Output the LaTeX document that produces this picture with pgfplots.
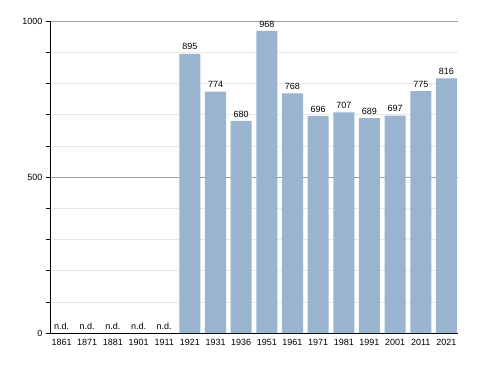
\documentclass[border=0pt]{standalone}
\usepackage{pgfplots}
\pgfplotsset{compat=1.18}
\usepackage{fontspec}
\setmainfont{Liberation Sans}
\definecolor{barc}{HTML}{9AB4D0}
\begin{document}
\begin{tikzpicture}
\begin{axis}[name=ax, at={(50pt,40pt)}, anchor=south west,
  scale only axis, width=408pt, height=312pt,
  xmin=-0.45, xmax=15.45, ymin=0, ymax=1000,
  axis x line*=bottom, axis y line*=left,
  axis line style={-, black, line width=0.8pt},
  xtick={0,...,15},
  xticklabels={1861,1871,1881,1901,1911,1921,1931,1936,1951,1961,1971,1981,1991,2001,2011,2021},
  x tick style={draw=none},
  ytick={0,500,1000},
  minor ytick={100,200,300,400,600,700,800,900},
  y tick style={black, line width=0.6pt},
  tick align=outside, major tick length=4pt, minor tick length=4pt,
  ymajorgrids, yminorgrids,
  major grid style={gray!75, line width=0.6pt},
  minor grid style={gray!18, line width=0.6pt},
  tick label style={font=\fontsize{9}{10}\selectfont},
  xticklabel style={yshift=1pt},
  /pgf/number format/1000 sep={},
  /pgf/number format/assume math mode=true,
  clip=false,
]
\addplot[ybar, bar width=0.82, fill=barc, draw=none,
  nodes near coords, every node near coord/.append style={font=\fontsize{9}{10}\selectfont, black, inner sep=3.5pt}]
  coordinates {(5,895) (6,774) (7,680) (8,968) (9,768) (10,696) (11,707) (12,689) (13,697) (14,775) (15,816)};
\addplot[draw=none, mark=none, nodes near coords={n.d.},
  every node near coord/.append style={font=\fontsize{9}{10}\selectfont, black, inner sep=3.5pt}]
  coordinates {(0,0) (1,0) (2,0) (3,0) (4,0)};
\end{axis}
\pgfresetboundingbox
\path[use as bounding box] (0,0) rectangle (488pt,373pt);
\end{tikzpicture}
\end{document}
